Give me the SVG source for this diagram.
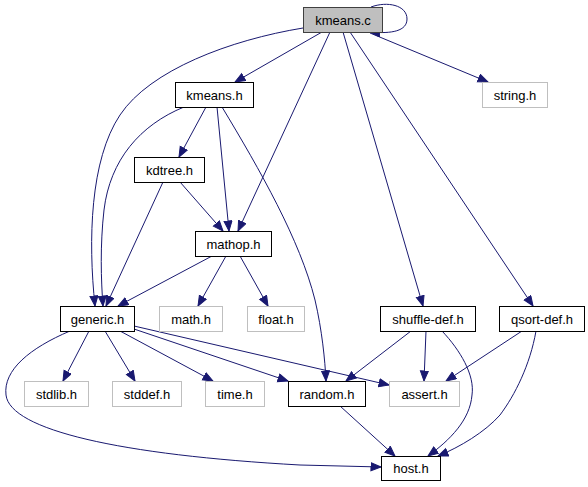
<svg xmlns="http://www.w3.org/2000/svg" width="588" height="487" viewBox="0 0 588 487">
<defs>
<marker id="arr" markerUnits="userSpaceOnUse" markerWidth="12" markerHeight="10" refX="10.5" refY="4.5" orient="auto">
<path d="M0.5,0.5 L10.5,4.5 L0.5,8.5 z" fill="#191970" stroke="#191970" stroke-width="1"/>
</marker>
<style>
.e{fill:none;stroke:#191970;stroke-width:1;marker-end:url(#arr)}
.n rect{fill:#fff;stroke:#000;stroke-width:1}
.g rect{fill:#fff;stroke:#bfbfbf;stroke-width:1}
text{font-family:"Liberation Sans",Arial,sans-serif;font-size:13px;text-anchor:middle;fill:#000}
</style>
</defs>
<rect width="588" height="487" fill="#fff"/>
<g id="edges">
<path class="e" d="M371,7 C387,1 407,5 407,19 C407,31 392,34 370,32"/>
<path class="e" d="M322,32 L235,82"/>
<path class="e" d="M370,33 L488,82"/>
<path class="e" d="M303,28 C230,40 150,70 120,115 C90,160 88,240 95,306"/>
<path class="e" d="M330,32 L238,231"/>
<path class="e" d="M343,32 L423,306"/>
<path class="e" d="M350,32 L533,306"/>
<path class="e" d="M184,107 C140,125 110,160 104,210 C100,245 101,280 103,306"/>
<path class="e" d="M206,107 L179,157"/>
<path class="e" d="M217,107 L229,231"/>
<path class="e" d="M222,107 C260,170 300,240 315,300 C322,330 325,360 326,381"/>
<path class="e" d="M163,182 L106,306"/>
<path class="e" d="M180,182 L223,231"/>
<path class="e" d="M212,256 L118,306"/>
<path class="e" d="M226,256 L198,306"/>
<path class="e" d="M240,256 L268,306"/>
<path class="e" d="M89,331 L63,381"/>
<path class="e" d="M105,331 L135,381"/>
<path class="e" d="M120,331 L213,381"/>
<path class="e" d="M134,329 L288,381"/>
<path class="e" d="M134,326 L389,385"/>
<path class="e" d="M70,331 C30,348 3,370 6,395 C10,430 120,455 300,465 L381,467"/>
<path class="e" d="M411,331 L346,381"/>
<path class="e" d="M426,331 L424,381"/>
<path class="e" d="M442,331 C460,350 475,375 472,395 C470,420 450,440 428,456"/>
<path class="e" d="M522,331 L446,381"/>
<path class="e" d="M536,331 C530,365 515,395 500,415 C485,432 460,447 438,456"/>
<path class="e" d="M340,406 L395,456"/>
</g>
<g id="kmeans_c"><rect x="303.5" y="7.5" width="79" height="25" fill="#bfbfbf" stroke="#404040"/><text x="343" y="24.5">kmeans.c</text></g>
<g id="kmeans_h" class="n"><rect x="175.5" y="82.5" width="78" height="25"/><text x="214.5" y="99.5">kmeans.h</text></g>
<g id="string_h" class="g"><rect x="482.5" y="82.5" width="65" height="25"/><text x="515" y="99.5">string.h</text></g>
<g id="kdtree_h" class="n"><rect x="134.5" y="157.5" width="70" height="25"/><text x="169.5" y="174.5">kdtree.h</text></g>
<g id="mathop_h" class="n"><rect x="195.5" y="231.5" width="76" height="25"/><text x="233.5" y="248.5">mathop.h</text></g>
<g id="generic_h" class="n"><rect x="60.5" y="306.5" width="74" height="25"/><text x="97.5" y="323.5">generic.h</text></g>
<g id="math_h" class="g"><rect x="159.5" y="306.5" width="63" height="25"/><text x="191" y="323.5">math.h</text></g>
<g id="float_h" class="g"><rect x="247.5" y="306.5" width="57" height="25"/><text x="276" y="323.5">float.h</text></g>
<g id="shuffle_def_h" class="n"><rect x="380.5" y="306.5" width="95" height="25"/><text x="428" y="323.5">shuffle-def.h</text></g>
<g id="qsort_def_h" class="n"><rect x="499.5" y="306.5" width="85" height="25"/><text x="542" y="323.5">qsort-def.h</text></g>
<g id="stdlib_h" class="g"><rect x="24.5" y="381.5" width="64" height="25"/><text x="56.5" y="398.5">stdlib.h</text></g>
<g id="stddef_h" class="g"><rect x="112.5" y="381.5" width="69" height="25"/><text x="147" y="398.5">stddef.h</text></g>
<g id="time_h" class="g"><rect x="205.5" y="381.5" width="59" height="25"/><text x="235" y="398.5">time.h</text></g>
<g id="random_h" class="n"><rect x="288.5" y="381.5" width="77" height="25"/><text x="327" y="398.5">random.h</text></g>
<g id="assert_h" class="g"><rect x="389.5" y="381.5" width="70" height="25"/><text x="424.5" y="398.5">assert.h</text></g>
<g id="host_h" class="n"><rect x="381.5" y="456.5" width="59" height="24"/><text x="411" y="473">host.h</text></g>
</svg>
